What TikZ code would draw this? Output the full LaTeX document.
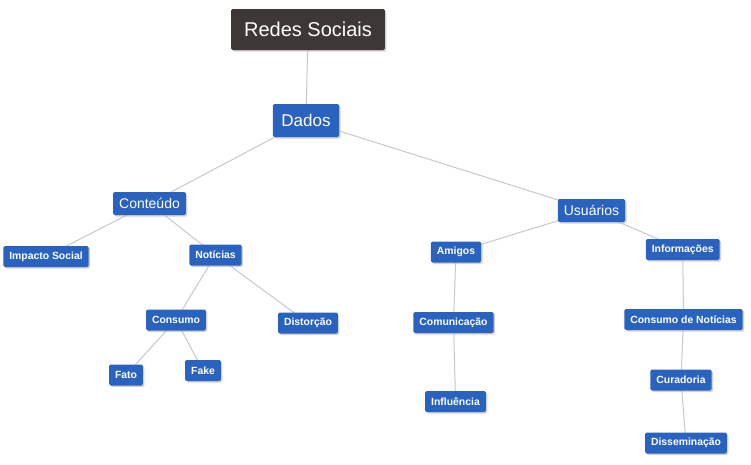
\documentclass[tikz,border=0pt]{standalone}
\usepackage{fontspec}
\setmainfont{Liberation Sans}
\usetikzlibrary{shadows,backgrounds}
\definecolor{nodeblue}{HTML}{2A63BF}
\definecolor{rootdark}{HTML}{3D3735}
\definecolor{edgegray}{HTML}{C8C8C8}
\tikzset{
  base/.style={rounded corners=1.5pt, text=white, inner ysep=0pt, inner xsep=6pt,
    drop shadow={shadow xshift=1.5pt, shadow yshift=-1.5pt, fill=black!30, opacity=0.6}},
  small/.style={base, fill=nodeblue, font=\fontsize{10.4}{12}\selectfont\bfseries, minimum height=21pt},
  mid/.style={base, fill=nodeblue, font=\fontsize{14}{16}\selectfont, minimum height=23pt, inner xsep=6pt},
  big/.style={base, fill=nodeblue, font=\fontsize{17}{19}\selectfont, minimum height=33pt, inner xsep=8.5pt},
  root/.style={base, fill=rootdark, font=\fontsize{20}{22}\selectfont, minimum height=41pt, inner xsep=13pt},
  edge/.style={draw=edgegray, line width=1pt}
}
\begin{document}
\begin{tikzpicture}[x=1pt,y=-1pt]
\useasboundingbox (0,0) rectangle (751,464);
\node[root] (rs) at (308,29.5) {Redes Sociais};
\node[big] (dados) at (306,120.5) {Dados};
\node[mid] (cont) at (149.5,203.5) {Conteúdo};
\node[mid] (usu) at (591.5,210.5) {Usuários};
\node[small] (imp) at (46,256.5) {Impacto Social};
\node[small] (not) at (215.5,255) {Notícias};
\node[small] (cons) at (176,320) {Consumo};
\node[small] (dist) at (308,323) {Distorção};
\node[small] (fato) at (126,375) {Fato};
\node[small] (fake) at (203,370.5) {Fake};
\node[small] (ami) at (456,252) {Amigos};
\node[small] (info) at (682.7,249.5) {Informações};
\node[small] (com) at (453.5,322.5) {Comunicação};
\node[small] (inf) at (455.5,401.5) {Influência};
\node[small] (cdn) at (683.5,319.5) {Consumo de Notícias};
\node[small] (cur) at (681,380) {Curadoria};
\node[small] (dis) at (686,443) {Disseminação};
\begin{pgfonlayer}{background}
\draw[edge] (rs.center) -- (dados.center);
\draw[edge] (dados.center) -- (cont.center);
\draw[edge] (dados.center) -- (usu.center);
\draw[edge] (cont.center) -- (imp.center);
\draw[edge] (cont.center) -- (not.center);
\draw[edge] (not.center) -- (cons.center);
\draw[edge] (not.center) -- (dist.center);
\draw[edge] (cons.center) -- (fato.center);
\draw[edge] (cons.center) -- (fake.center);
\draw[edge] (usu.center) -- (ami.center);
\draw[edge] (usu.center) -- (info.center);
\draw[edge] (ami.center) -- (com.center);
\draw[edge] (com.center) -- (inf.center);
\draw[edge] (info.center) -- (cdn.center);
\draw[edge] (cdn.center) -- (cur.center);
\draw[edge] (cur.center) -- (dis.center);
\end{pgfonlayer}
\end{tikzpicture}
\end{document}
